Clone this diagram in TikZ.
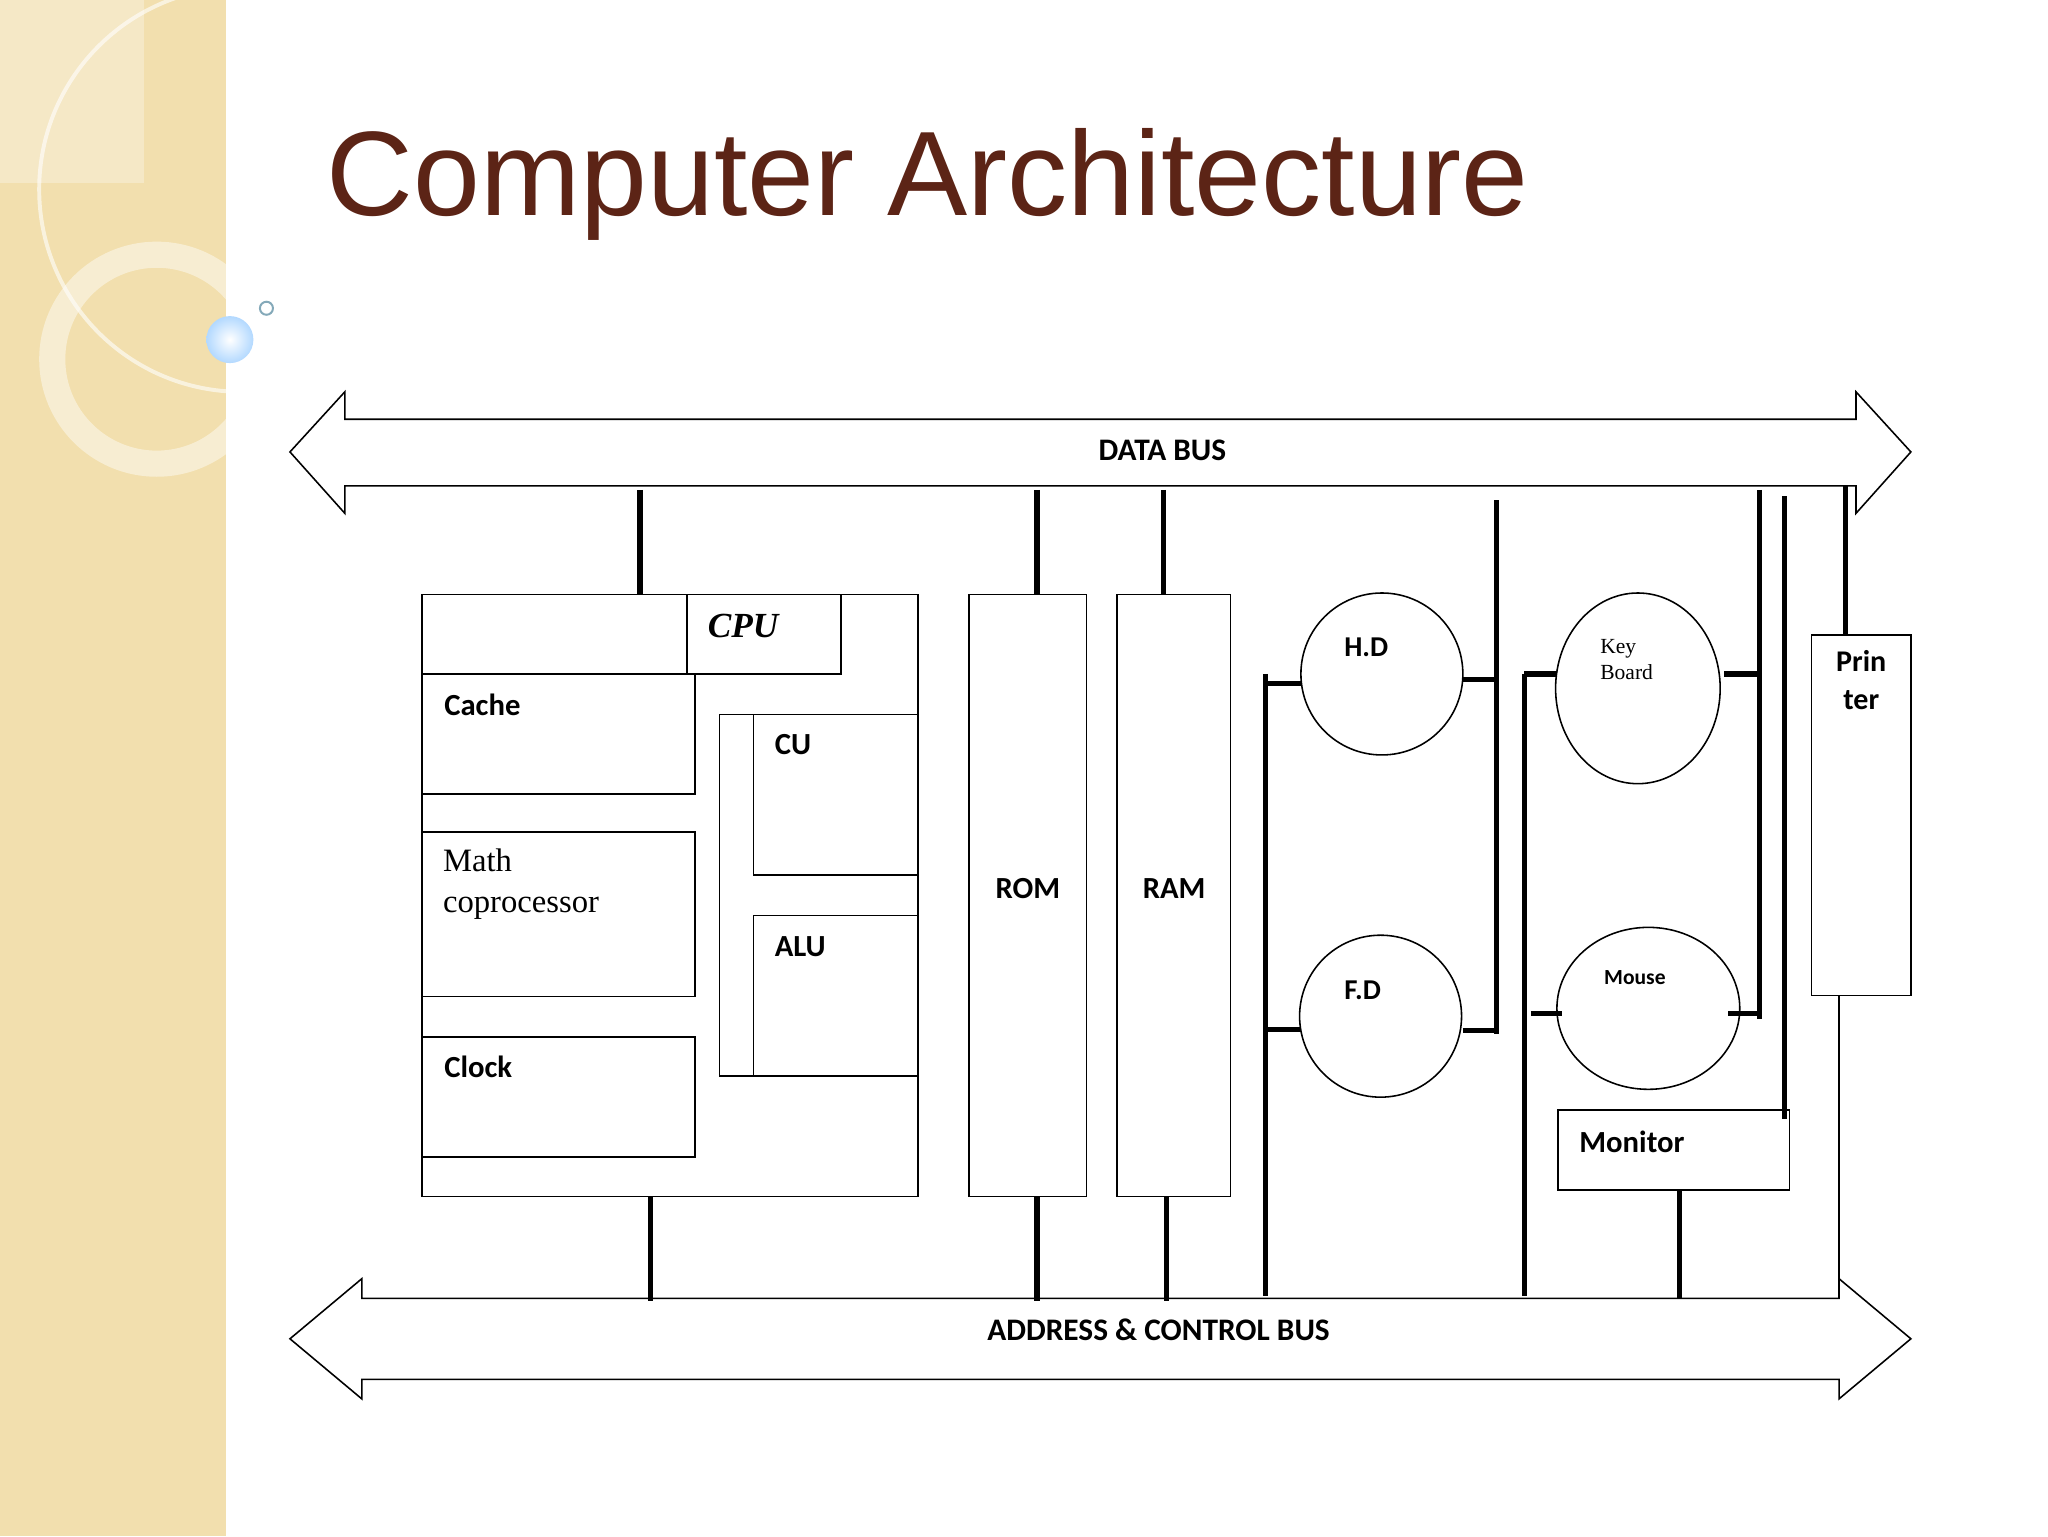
\documentclass[tikz,border=0pt]{standalone}
\usepackage{fontspec}
\setmainfont{Carlito}
\newfontfamily\titlef{Liberation Sans}
\newfontfamily\serf{Liberation Serif}
\definecolor{strip}{HTML}{F2DFAE}
\definecolor{titlec}{HTML}{5C2416}
\begin{document}
\begin{tikzpicture}[x=1pt,y=-1pt,
  box/.style={draw=black,line width=1.2pt},
  wire/.style={line width=4pt},
  lbl/.style={inner sep=0pt,anchor=base west,font=\bfseries\fontsize{23.5}{25}\selectfont},
  buslbl/.style={inner sep=0pt,anchor=center,font=\bfseries\fontsize{24}{26}\selectfont},
  bus/.style={draw=black,line width=1.2pt,fill=white}]
\useasboundingbox (0,0) rectangle (1568,1176);
\fill[white] (0,0) rectangle (1568,1176);
% decoration strip
\fill[strip] (0,0) rectangle (173,1176);
\fill[white,opacity=0.3] (0,0) rectangle (110,140);
\draw[white,opacity=0.6,line width=3pt] (185,145) circle (155);
\draw[white,opacity=0.45,line width=20pt] (120,275) circle (80);
\shade[inner color=white,outer color=cyan!50!blue!30] (176,260) circle (18);
\draw[cyan!50!black!60,line width=1.5pt] (204,236) circle (5);
% title
\node[inner sep=0pt,anchor=base west,text=titlec,font=\titlef\fontsize{92}{96}\selectfont] (title) at (250,165) {Computer Architecture};
% buses
\draw[bus] (222,346) -- (264,300) -- (264,321) -- (1421,321) -- (1421,300) -- (1463,346) -- (1421,393) -- (1421,372) -- (264,372) -- (264,393) -- cycle;
\node[buslbl] (db) at (890,345) {DATA BUS};
\draw[bus] (222,1025) -- (277,979) -- (277,994) -- (1408,994) -- (1408,979) -- (1463,1025) -- (1408,1071) -- (1408,1056) -- (277,1056) -- (277,1071) -- cycle;
\node[buslbl] (ab) at (887,1018) {ADDRESS \& CONTROL BUS};
% CPU
\draw[box] (323,455) rectangle (703,916);
\draw[box] (526,455) rectangle (644,516);
\node[inner sep=0pt,anchor=base,font=\serf\bfseries\itshape\fontsize{27}{28}\selectfont] (cpu) at (569,488) {CPU};
\draw[box] (323,516) rectangle (532,608);
\node[lbl] (cache) at (340,548) {Cache};
\draw[box] (323,637) rectangle (532,763);
\node[inner sep=0pt,anchor=north west,align=left,font=\serf\fontsize{25}{31}\selectfont] (math) at (339,650) {Math\\coprocessor};
\draw[box] (323,794) rectangle (532,886);
\node[lbl] (clock) at (340,825) {Clock};
\draw[box] (551,547) rectangle (703,824);
\draw[box] (577,547) rectangle (703,670);
\node[lbl] (cu) at (593,578) {CU};
\draw[box] (577,701) rectangle (703,824);
\node[lbl] (alu) at (593,732) {ALU};
% ROM RAM
\draw[box] (742,455) rectangle (832,916);
\node[lbl,anchor=base] (rom) at (787,688) {ROM};
\draw[box] (855,455) rectangle (942,916);
\node[lbl,anchor=base] (ram) at (899,688) {RAM};
% devices
\draw[box] (1058,516) circle (62);
\node[lbl,font=\bfseries\fontsize{22}{23}\selectfont] (hd) at (1029,503) {H.D};
\draw[box] (1057,778) circle (62);
\node[lbl,font=\bfseries\fontsize{22}{23}\selectfont] (fd) at (1029,765) {F.D};
\draw[box] (1254,527) ellipse (63 and 73);
\node[inner sep=0pt,anchor=north west,align=left,font=\serf\fontsize{16.5}{20}\selectfont] (kb) at (1225,489) {Key\\Board};
\draw[box] (1262,772) ellipse (70 and 62);
\node[lbl,font=\bfseries\fontsize{16.5}{18}\selectfont] (mouse) at (1228,754) {Mouse};
\draw[box] (1387,486) rectangle (1463,762);
\node[inner sep=0pt,anchor=north,align=center,font=\bfseries\fontsize{23}{29}\selectfont] (pr) at (1425,498) {Prin\\ter};
\draw[box] (1193,850) rectangle (1370,911);
\node[lbl,font=\bfseries\fontsize{23.5}{24}\selectfont] (mon) at (1209,882) {Monitor};
% wires
\draw[wire] (490,375) -- (490,455);
\draw[wire] (498,916) -- (498,996);
\draw[wire] (794,375) -- (794,455);
\draw[wire] (794,916) -- (794,996);
\draw[wire] (891,375) -- (891,455);
\draw[wire] (893,916) -- (893,996);
\draw[wire] (969,516) -- (969,992);
\draw[wire] (969,523) -- (996,523);
\draw[wire] (969,788) -- (996,788);
\draw[wire] (1146,383) -- (1146,792);
\draw[wire] (1120,520) -- (1146,520);
\draw[wire] (1120,789) -- (1146,789);
\draw[wire] (1167,516) -- (1167,992);
\draw[wire] (1167,516) -- (1192,516);
\draw[wire] (1172,776) -- (1196,776);
\draw[wire] (1347,375) -- (1347,780);
\draw[wire] (1320,516) -- (1347,516);
\draw[wire] (1323,776) -- (1347,776);
\draw[wire] (1366,380) -- (1366,857);
\draw[wire] (1286,911) -- (1286,994);
\draw[wire] (1413,372) -- (1413,486);
\draw[line width=2pt] (1408,762) -- (1408,994);
\end{tikzpicture}
\end{document}
